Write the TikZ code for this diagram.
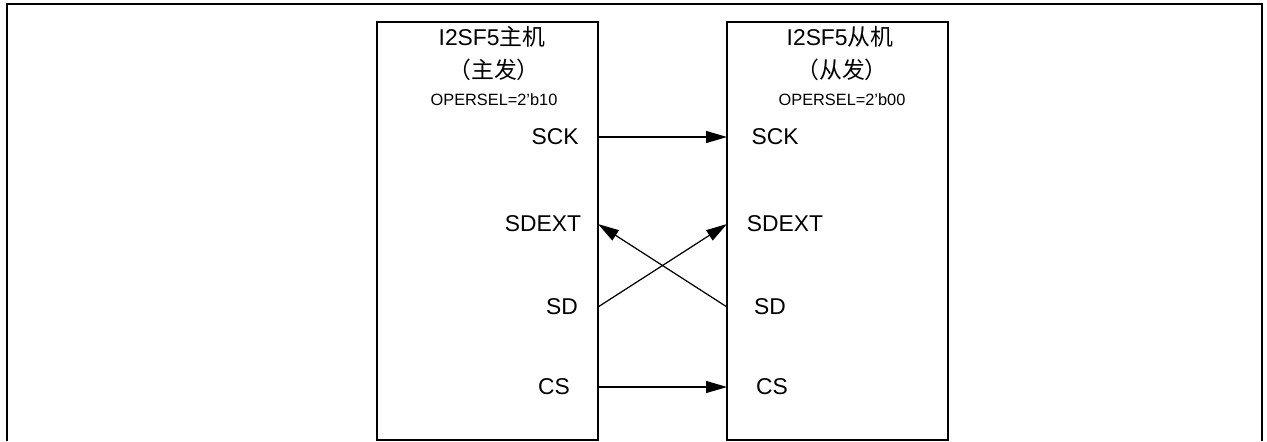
\documentclass[tikz,border=0pt]{standalone}
\usepackage{fontspec}
\setmainfont{Liberation Sans}
\newfontfamily\cjk{Noto Sans CJK SC}
\usetikzlibrary{arrows.meta}
\tikzset{
  chip/.style={draw,line width=0.7pt},
  title/.style={inner sep=0pt,font=\fontsize{13}{15}\selectfont},
  mode/.style={inner sep=0pt,font=\fontsize{9.3}{11}\selectfont},
  pin/.style={inner sep=0pt,font=\fontsize{13}{15}\selectfont},
  sig/.style={line width=0.7pt,-{Triangle[length=0.42cm,width=0.24cm]}},
}
\begin{document}
\begin{tikzpicture}[x=0.02cm,y=-0.02cm]
\useasboundingbox (0,0) rectangle (1267,441);
\draw[line width=1.6pt] (7,441) -- (7,4) -- (1262,4) -- (1262,441);
% master side
\draw[chip] (377,22) rectangle (598,440);
\node[title] (mname) at (492,37) {I2SF5{\cjk 主机}};
\node[title] (mrole) at (494,70) {\cjk （主发）};
\node[mode] (mmode) at (494,100) {OPERSEL=2'b10};
\node[pin] (msckl) at (555,137) {SCK};
\node[pin] (msdextl) at (543,224) {SDEXT};
\node[pin] (msdl) at (562,307) {SD};
\node[pin] (mcsl) at (554,387) {CS};
\coordinate (msck) at (598,137);
\coordinate (msdext) at (598,224);
\coordinate (msd) at (598,307);
\coordinate (mcs) at (598,387);
% slave side
\draw[chip] (727,22) rectangle (948,440);
\node[title] (sname) at (840,37) {I2SF5{\cjk 从机}};
\node[title] (srole) at (842,70) {\cjk （从发）};
\node[mode] (smode) at (842,100) {OPERSEL=2'b00};
\node[pin] (ssckl) at (775,137) {SCK};
\node[pin] (ssdextl) at (785,224) {SDEXT};
\node[pin] (ssdl) at (770,307) {SD};
\node[pin] (scsl) at (772,387) {CS};
\coordinate (ssck) at (727,137);
\coordinate (ssdext) at (727,224);
\coordinate (ssd) at (727,307);
\coordinate (scs) at (727,387);
% signals
\draw[sig] (msck) -- (ssck);
\draw[sig] (msd) -- (ssdext);
\draw[sig] (ssd) -- (msdext);
\draw[sig] (mcs) -- (scs);
\end{tikzpicture}
\end{document}
